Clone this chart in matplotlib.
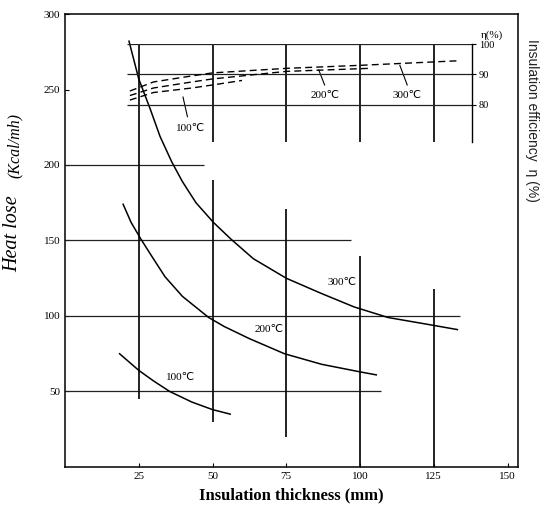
import matplotlib.pyplot as plt

# heat loss curves (thickness mm, kcal/mh)
t300 = [21.7, 25, 28.9, 32.2, 36.2, 39.8, 44.4, 50.3, 56.2, 63.8, 75, 86.8, 98, 109.5, 124.3, 133]
q300 = [282, 257, 237, 219, 202, 189, 175, 162, 151, 138, 125, 115, 106, 99, 94, 91]
t200 = [19.7, 22.4, 25.7, 29.6, 33.9, 39.8, 48.7, 54, 62.5, 74.4, 87, 100, 105.5]
q200 = [174, 162, 151, 139, 126, 113, 99, 93, 85, 75, 68, 63, 61]
t100 = [18.5, 25, 30, 35.5, 43, 50, 56]
q100 = [75, 64, 57, 50, 43, 38, 35]

# insulation efficiency curves (%)
te300 = [22, 30, 43, 50, 75, 100, 133]
e300 = [84.5, 87.5, 89.5, 90.5, 92, 93, 94.5]
te200 = [22, 30, 43, 50, 75, 103]
e200 = [83, 85.5, 87.5, 88.5, 91, 92]
te100 = [22, 30, 43, 50, 60]
e100 = [81.5, 84, 85.5, 86.5, 88]

# grid segments of the original drawing
h_lines = [50, 100, 150, 200]
h_ends = [107, 134, 97, 47]
v_lines = [25, 50, 50, 75, 75, 100, 100, 125, 125]
v_lo = [45, 30, 215, 20, 215, 0, 215, 0, 215]
v_hi = [280, 190, 280, 171, 280, 140, 280, 118, 280]
eta_lines = [80, 90, 100]

serif = ['Liberation Serif', 'DejaVu Sans']
sans = ['Liberation Sans', 'DejaVu Sans']

fig = plt.figure(figsize=(5.43, 5.13), dpi=100)
ax = fig.add_axes([0.1197, 0.0897, 0.834, 0.883])
ax.set_xlim(0, 153.5)
ax.set_ylim(0, 300)

ax.hlines(h_lines, 0, h_ends, color='#222222', lw=0.9)
ax.vlines(v_lines, v_lo, v_hi, color='#111111', lw=1.3)

for t, q in [(t300, q300), (t200, q200), (t100, q100)]:
    ax.plot(t, q, color='black', lw=1.1)

ax.text(94, 122, '300℃', family=serif, fontsize=8, ha='center', va='center')
ax.text(69, 91, '200℃', family=serif, fontsize=8, ha='center', va='center')
ax.text(39, 59, '100℃', family=serif, fontsize=8, ha='center', va='center')

ax.set_xticks([25, 50, 75, 100, 125, 150])
ax.set_yticks([50, 100, 150, 200, 250, 300])
ax.tick_params(direction='in', length=3, labelsize=8, width=0.8)
for lab in ax.get_xticklabels() + ax.get_yticklabels():
    lab.set_family(serif)
for s in ax.spines.values():
    s.set_linewidth(1.1)

ax.set_xlabel('Insulation thickness (mm)', family=serif, fontsize=12,
              fontweight='bold', labelpad=5)

# efficiency scale drawn as an inset in data coordinates
ins = ax.inset_axes([21, 215, 117, 65], transform=ax.transData)
ins.set_xlim(21, 138)
ins.set_ylim(67.5, 100)
ins.patch.set_alpha(0)
for k in ['top', 'left', 'bottom']:
    ins.spines[k].set_visible(False)
ins.spines['right'].set_linewidth(1.0)
ins.set_xticks([])
ins.yaxis.tick_right()
ins.set_yticks(eta_lines)
ins.tick_params(axis='y', length=3, labelsize=7.5, pad=2)
for lab in ins.get_yticklabels():
    lab.set_family(serif)
ins.hlines(eta_lines, 21, 138, color='#222222', lw=0.9)
for t, e in [(te300, e300), (te200, e200), (te100, e100)]:
    ins.plot(t, e, color='black', lw=1.0, ls=(0, (5, 3)))
ins.text(141, 103, 'η(%)', family=serif, fontsize=8, ha='left', va='center',
         clip_on=False)

ax.plot([40, 41.5], [245, 232], color='black', lw=0.8)
ax.text(42.5, 224, '100℃', family=serif, fontsize=8, ha='center', va='center')
ax.plot([86, 88], [263, 253], color='black', lw=0.8)
ax.text(88, 246, '200℃', family=serif, fontsize=8, ha='center', va='center')
ax.plot([113.5, 116], [266, 253], color='black', lw=0.8)
ax.text(116, 246, '300℃', family=serif, fontsize=8, ha='center', va='center')

fig.text(13 / 543, 1 - 234 / 513, 'Heat lose', family=serif, style='italic',
         fontsize=14.5, rotation=90, ha='center', va='center')
fig.text(15 / 543, 1 - 145 / 513, '(Kcal/mh)', family=serif, style='italic',
         fontsize=11.5, rotation=90, ha='center', va='center')
fig.text(532 / 543, 1 - 120 / 513, 'Insulation efficiency  η (%)', family=sans,
         fontsize=10, color='#222222', rotation=-90, ha='center', va='center')

fig.savefig('out.png', dpi=100)
